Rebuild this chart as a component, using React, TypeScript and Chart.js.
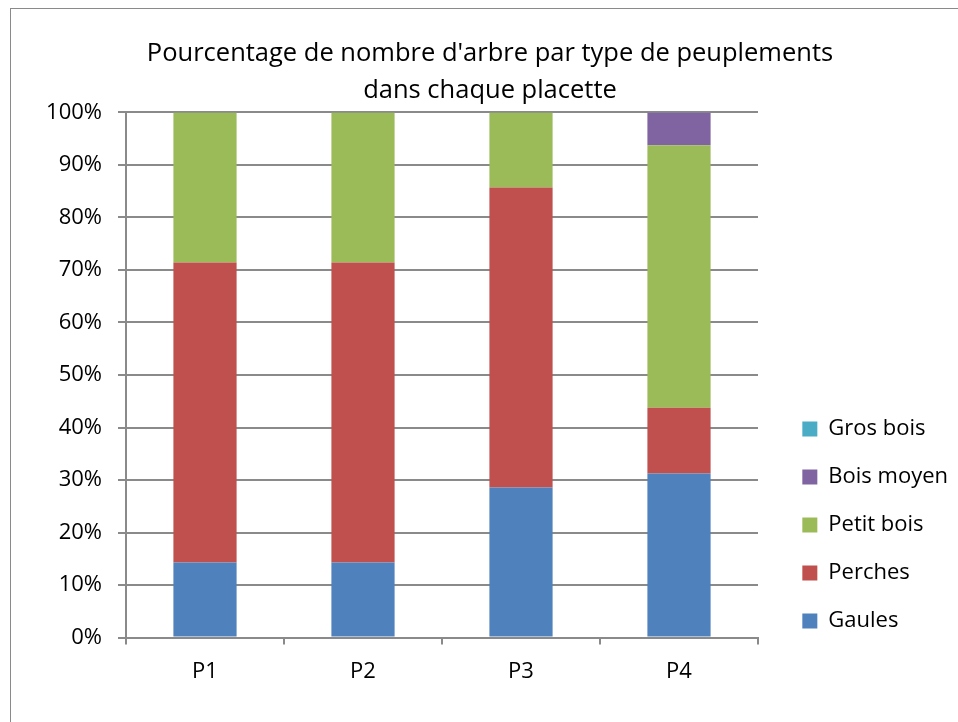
import React, { useEffect, useRef } from "react";
import { Chart, registerables } from "chart.js";

Chart.register(...registerables);

const CATEGORIES = ["P1", "P2", "P3", "P4"];
const GAULES = [14.29, 14.29, 28.57, 31.25];
const PERCHES = [57.14, 57.14, 57.14, 12.5];
const PETIT_BOIS = [28.57, 28.57, 14.29, 50.0];
const BOIS_MOYEN = [0, 0, 0, 6.25];
const GROS_BOIS = [0, 0, 0, 0];
const SERIES_LABELS = ["Gaules", "Perches", "Petit bois", "Bois moyen", "Gros bois"];
const SERIES_COLORS = ["#4F81BD", "#C0504D", "#9BBB59", "#8064A2", "#4BACC6"];
const TITLE_LINES = ["Pourcentage de nombre d'arbre par type de peuplements", "dans chaque placette"];

const FONT = '"Open Sans", "DejaVu Sans", sans-serif';
const BODY_FS = 22;
const TITLE_FS = 25.5;
const LEG_PAD = 26;
const LEG_BOX = 15;
const GRID = "#8a8a8a";

export default function App() {
  const ref = useRef<HTMLCanvasElement | null>(null);

  useEffect(() => {
    if (!ref.current) return;
    const values = [GAULES, PERCHES, PETIT_BOIS, BOIS_MOYEN, GROS_BOIS];
    const chart = new Chart(ref.current, {
      type: "bar",
      data: {
        labels: CATEGORIES,
        datasets: SERIES_LABELS.map((label, i) => ({
          label,
          data: values[i],
          backgroundColor: SERIES_COLORS[i],
          borderWidth: 0,
          barPercentage: 0.4,
          categoryPercentage: 1,
        })),
      },
      options: {
        responsive: false,
        animation: false,
        devicePixelRatio: 1,
        layout: { padding: { left: 22, right: 0, top: 0, bottom: 23 } },
        plugins: {
          tooltip: { enabled: false },
          title: {
            display: true,
            text: TITLE_LINES,
            color: "#000",
            font: { family: FONT, size: TITLE_FS, weight: "normal", lineHeight: 1.42 },
            padding: { top: 36, bottom: 4 },
          },
          legend: {
            display: true,
            position: "right",
            align: "start",
            fullSize: true,
            reverse: true,
            maxWidth: 300,
            title: {
              display: true,
              text: " ",
              font: { family: FONT, size: 10, lineHeight: 1 },
              padding: { top: 382, bottom: 0 },
            },
            labels: {
              boxWidth: LEG_BOX,
              boxHeight: LEG_BOX,
              padding: LEG_PAD,
              color: "#000",
              font: { family: FONT, size: BODY_FS },
            },
          },
        },
        scales: {
          x: {
            stacked: true,
            grid: {
              offset: true,
              drawOnChartArea: false,
              drawTicks: true,
              tickLength: 7,
              color: GRID,
              lineWidth: 2,
            },
            border: { color: GRID, width: 2 },
            ticks: { color: "#000", font: { family: FONT, size: BODY_FS }, padding: 14 },
          },
          y: {
            stacked: true,
            min: 0,
            max: 100,
            ticks: {
              stepSize: 10,
              color: "#000",
              font: { family: FONT, size: BODY_FS },
              padding: 16,
              callback: (v: any) => v + "%",
            },
            grid: { color: GRID, lineWidth: 2, tickLength: 8 },
            border: { color: GRID, width: 2 },
            afterFit: (s: any) => {
              s.width = 104;
            },
          },
          y2: {
            position: "right",
            display: true,
            ticks: { display: false },
            grid: { display: false, drawTicks: false },
            border: { display: false },
            afterFit: (s: any) => {
              const ctx = s.ctx;
              ctx.save();
              ctx.font = `normal ${BODY_FS}px ${FONT}`;
              const w = Math.max(...SERIES_LABELS.map((t) => ctx.measureText(t).width));
              ctx.restore();
              const legendW = LEG_PAD + LEG_BOX + BODY_FS / 2 + w + 10;
              s.width = Math.max(0, 200 - legendW);
            },
          },
        },
      },
    });
    return () => chart.destroy();
  }, []);

  return (
    <div>
      <div
        style={{
          position: "fixed",
          left: 10,
          top: 8,
          right: 0,
          bottom: 0,
          borderLeft: "1.5px solid #8a8a8a",
          borderTop: "1.5px solid #8a8a8a",
        }}
      />
      <canvas
        ref={ref}
        width={958}
        height={722}
        style={{ position: "fixed", left: 0, top: 0, width: 958, height: 722 }}
      />
    </div>
  );
}
